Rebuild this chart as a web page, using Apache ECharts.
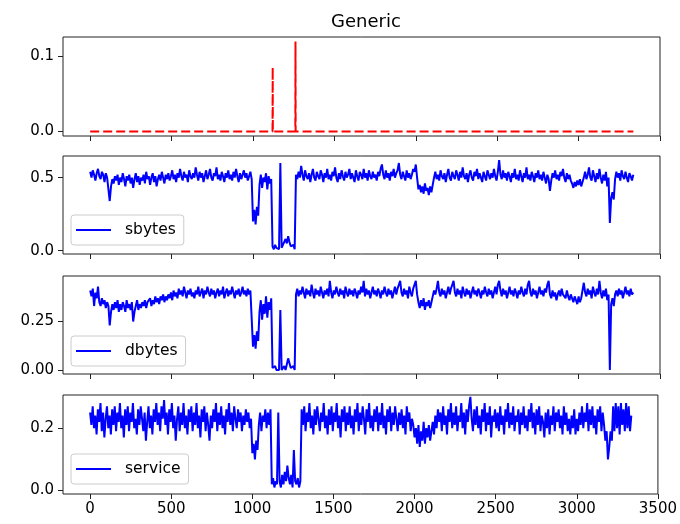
<!DOCTYPE html>
<html>
<head>
<meta charset="utf-8">
<script src="https://cdn.jsdelivr.net/npm/echarts@6/dist/echarts.min.js"></script>
<style>html,body{margin:0;padding:0;background:#fff}#c{width:680px;height:524px}</style>
</head>
<body>
<div id="c"></div>
<script>
// ---- data ----
const STEP = 8; // sample spacing along x (index units)
const xTicks = [0, 500, 1000, 1500, 2000, 2500, 3000, 3500];

const genericX = [0, 1120, 1121, 1122, 1260, 1261, 1262, 3336];
const genericY = [0, 0, 0.0855, 0, 0, 0.12, 0, 0];

const sbytes = [
0.54,0.50,0.55,0.52,0.48,0.53,0.56,0.51,0.49,0.54,0.52,0.47,0.53,0.50,0.42,0.34,0.44,0.49,0.46,0.51,
0.48,0.52,0.45,0.50,0.47,0.53,0.49,0.44,0.51,0.48,0.52,0.46,0.50,0.43,0.49,0.53,0.47,0.51,0.45,0.50,
0.48,0.52,0.46,0.54,0.49,0.51,0.45,0.50,0.53,0.47,0.51,0.44,0.49,0.52,0.48,0.54,0.50,0.46,0.52,0.49,
0.53,0.48,0.51,0.55,0.49,0.52,0.47,0.53,0.50,0.56,0.51,0.48,0.54,0.50,0.52,0.47,0.55,0.51,0.49,0.53,
0.50,0.57,0.52,0.48,0.54,0.50,0.53,0.47,0.51,0.55,0.49,0.52,0.56,0.50,0.48,0.53,0.51,0.57,0.49,0.52,
0.48,0.54,0.51,0.47,0.53,0.50,0.55,0.49,0.52,0.48,0.54,0.50,0.56,0.51,0.47,0.53,0.49,0.52,0.55,0.50,
0.53,0.48,0.51,0.54,0.49,0.20,0.28,0.18,0.30,0.24,0.45,0.52,0.43,0.50,0.47,0.53,0.42,0.51,0.46,0.49,
0.03,0.01,0.04,0.02,0.03,0.01,0.60,0.02,0.04,0.03,0.08,0.05,0.10,0.06,0.03,0.02,0.04,0.01,0.52,0.49,
0.54,0.50,0.58,0.52,0.48,0.55,0.51,0.49,0.53,0.47,0.52,0.56,0.50,0.48,0.54,0.51,0.49,0.55,0.52,0.47,
0.53,0.50,0.56,0.49,0.52,0.48,0.54,0.51,0.57,0.50,0.47,0.53,0.49,0.55,0.51,0.48,0.54,0.50,0.52,0.56,
0.49,0.53,0.50,0.47,0.55,0.51,0.48,0.54,0.52,0.49,0.56,0.50,0.53,0.48,0.55,0.51,0.49,0.54,0.50,0.52,
0.48,0.54,0.51,0.56,0.59,0.52,0.49,0.55,0.50,0.53,0.48,0.54,0.51,0.56,0.50,0.53,0.55,0.60,0.52,0.49,
0.54,0.51,0.48,0.55,0.50,0.53,0.49,0.52,0.56,0.54,0.59,0.50,0.42,0.45,0.40,0.44,0.39,0.46,0.41,0.43,
0.38,0.44,0.40,0.45,0.50,0.54,0.49,0.52,0.48,0.55,0.51,0.49,0.53,0.47,0.52,0.56,0.50,0.48,0.54,0.51,
0.49,0.55,0.52,0.48,0.54,0.50,0.57,0.51,0.49,0.53,0.47,0.52,0.55,0.50,0.48,0.54,0.51,0.56,0.49,0.53,
0.50,0.47,0.54,0.51,0.48,0.55,0.52,0.49,0.53,0.50,0.56,0.51,0.48,0.54,0.62,0.52,0.49,0.55,0.50,0.53,
0.48,0.54,0.51,0.47,0.53,0.50,0.56,0.49,0.52,0.48,0.55,0.51,0.47,0.53,0.50,0.57,0.49,0.52,0.48,0.54,
0.51,0.47,0.53,0.50,0.55,0.49,0.52,0.48,0.54,0.50,0.46,0.52,0.49,0.41,0.48,0.53,0.50,0.55,0.49,0.52,
0.48,0.54,0.51,0.56,0.50,0.47,0.53,0.49,0.52,0.48,0.46,0.43,0.47,0.44,0.48,0.45,0.49,0.44,0.47,0.50,
0.54,0.49,0.52,0.57,0.50,0.48,0.55,0.51,0.47,0.53,0.49,0.56,0.50,0.46,0.52,0.48,0.54,0.44,0.50,0.19,
0.36,0.40,0.35,0.49,0.54,0.50,0.53,0.48,0.55,0.51,0.49,0.54,0.50,0.47,0.53,0.51,0.48,0.52
];

const dbytes = [
0.41,0.38,0.42,0.33,0.40,0.37,0.43,0.35,0.33,0.37,0.34,0.36,0.32,0.35,0.33,0.23,0.30,0.34,0.31,0.35,
0.32,0.36,0.30,0.34,0.31,0.35,0.33,0.30,0.36,0.32,0.34,0.31,0.35,0.25,0.30,0.33,0.36,0.31,0.34,0.32,
0.35,0.33,0.36,0.32,0.35,0.34,0.37,0.33,0.36,0.34,0.38,0.35,0.37,0.34,0.38,0.36,0.39,0.35,0.38,0.36,
0.39,0.37,0.40,0.36,0.41,0.38,0.40,0.37,0.42,0.39,0.41,0.38,0.43,0.40,0.37,0.41,0.39,0.42,0.38,0.40,
0.37,0.41,0.39,0.43,0.38,0.40,0.42,0.37,0.41,0.39,0.43,0.40,0.38,0.42,0.39,0.41,0.37,0.40,0.42,0.38,
0.41,0.39,0.43,0.37,0.40,0.42,0.38,0.41,0.39,0.43,0.40,0.37,0.41,0.39,0.42,0.38,0.40,0.43,0.39,0.41,
0.38,0.42,0.39,0.41,0.40,0.12,0.18,0.11,0.20,0.15,0.30,0.36,0.26,0.34,0.29,0.38,0.27,0.35,0.31,0.37,
0.01,0.00,0.02,0.00,0.01,0.00,0.31,0.00,0.01,0.02,0.00,0.03,0.06,0.05,0.01,0.00,0.02,0.00,0.39,0.42,
0.38,0.41,0.39,0.43,0.40,0.37,0.42,0.39,0.41,0.38,0.44,0.40,0.37,0.42,0.39,0.41,0.38,0.43,0.40,0.37,
0.41,0.39,0.42,0.38,0.46,0.40,0.37,0.41,0.39,0.43,0.40,0.38,0.42,0.39,0.41,0.37,0.43,0.40,0.38,0.42,
0.39,0.41,0.38,0.42,0.40,0.37,0.41,0.39,0.43,0.40,0.46,0.38,0.42,0.39,0.41,0.37,0.40,0.43,0.39,0.41,
0.38,0.42,0.40,0.37,0.41,0.39,0.43,0.40,0.38,0.42,0.39,0.41,0.37,0.40,0.43,0.39,0.42,0.44,0.46,0.40,
0.38,0.42,0.39,0.41,0.37,0.43,0.40,0.38,0.42,0.44,0.46,0.39,0.35,0.32,0.36,0.33,0.37,0.31,0.35,0.33,
0.36,0.32,0.35,0.38,0.41,0.39,0.42,0.46,0.40,0.38,0.42,0.39,0.41,0.37,0.40,0.43,0.39,0.42,0.44,0.46,
0.40,0.38,0.42,0.39,0.41,0.37,0.43,0.40,0.38,0.42,0.39,0.41,0.37,0.40,0.43,0.39,0.41,0.38,0.42,0.40,
0.37,0.41,0.39,0.43,0.40,0.38,0.42,0.39,0.41,0.37,0.40,0.43,0.39,0.44,0.46,0.41,0.38,0.42,0.39,0.41,
0.37,0.40,0.43,0.39,0.41,0.38,0.42,0.40,0.37,0.41,0.39,0.43,0.40,0.38,0.42,0.39,0.44,0.46,0.40,0.38,
0.42,0.39,0.41,0.37,0.40,0.43,0.39,0.41,0.38,0.42,0.40,0.44,0.46,0.39,0.37,0.41,0.38,0.40,0.36,0.39,
0.41,0.38,0.42,0.39,0.40,0.37,0.41,0.38,0.36,0.39,0.37,0.35,0.38,0.36,0.34,0.38,0.35,0.37,0.36,0.45,
0.40,0.38,0.42,0.39,0.41,0.37,0.43,0.40,0.38,0.42,0.39,0.46,0.40,0.37,0.41,0.38,0.42,0.36,0.39,0.00,
0.34,0.37,0.33,0.39,0.41,0.38,0.42,0.39,0.41,0.37,0.40,0.43,0.39,0.41,0.38,0.42,0.39,0.40
];

const service = [
0.25,0.21,0.27,0.20,0.24,0.18,0.26,0.22,0.28,0.19,0.25,0.17,0.23,0.27,0.20,0.24,0.18,0.26,0.21,0.27,
0.19,0.25,0.22,0.28,0.20,0.24,0.17,0.26,0.21,0.27,0.19,0.25,0.22,0.28,0.20,0.23,0.18,0.26,0.21,0.27,
0.23,0.19,0.25,0.16,0.22,0.27,0.20,0.24,0.18,0.26,0.22,0.28,0.21,0.25,0.19,0.27,0.23,0.29,0.21,0.25,
0.18,0.26,0.22,0.28,0.20,0.24,0.16,0.23,0.27,0.19,0.25,0.21,0.28,0.20,0.24,0.18,0.26,0.22,0.27,0.19,
0.25,0.21,0.28,0.20,0.24,0.17,0.26,0.22,0.27,0.19,0.25,0.21,0.16,0.24,0.20,0.26,0.22,0.28,0.19,0.25,
0.21,0.27,0.20,0.24,0.18,0.26,0.22,0.28,0.21,0.25,0.19,0.27,0.23,0.20,0.26,0.22,0.25,0.19,0.24,0.21,
0.26,0.22,0.25,0.20,0.23,0.12,0.15,0.10,0.16,0.13,0.21,0.25,0.19,0.24,0.22,0.26,0.20,0.25,0.21,0.26,
0.02,0.04,0.01,0.03,0.02,0.25,0.03,0.01,0.05,0.02,0.06,0.03,0.08,0.04,0.02,0.05,0.01,0.13,0.03,0.02,
0.04,0.01,0.03,0.26,0.21,0.27,0.19,0.25,0.22,0.28,0.20,0.24,0.18,0.26,0.21,0.27,0.23,0.19,0.25,0.22,
0.28,0.20,0.24,0.18,0.26,0.21,0.27,0.19,0.25,0.22,0.28,0.20,0.24,0.17,0.26,0.22,0.27,0.19,0.25,0.21,
0.27,0.20,0.24,0.18,0.26,0.22,0.28,0.19,0.25,0.21,0.27,0.23,0.18,0.26,0.22,0.28,0.20,0.24,0.19,0.26,
0.22,0.27,0.19,0.25,0.21,0.28,0.20,0.24,0.18,0.26,0.22,0.27,0.19,0.25,0.21,0.27,0.23,0.19,0.25,0.21,
0.26,0.20,0.24,0.18,0.27,0.22,0.25,0.19,0.23,0.21,0.17,0.20,0.15,0.21,0.14,0.19,0.16,0.22,0.15,0.20,
0.17,0.21,0.16,0.19,0.22,0.18,0.24,0.20,0.26,0.22,0.25,0.19,0.27,0.21,0.24,0.18,0.26,0.22,0.28,0.20,
0.25,0.21,0.27,0.19,0.24,0.22,0.28,0.20,0.25,0.18,0.26,0.22,0.27,0.30,0.23,0.19,0.26,0.21,0.27,0.20,
0.24,0.18,0.26,0.22,0.28,0.19,0.25,0.21,0.27,0.17,0.24,0.22,0.26,0.20,0.25,0.19,0.27,0.21,0.24,0.18,
0.26,0.22,0.28,0.20,0.25,0.21,0.27,0.19,0.24,0.22,0.26,0.18,0.25,0.21,0.27,0.20,0.24,0.19,0.26,0.22,
0.28,0.20,0.25,0.18,0.26,0.21,0.27,0.19,0.24,0.22,0.17,0.25,0.20,0.26,0.18,0.24,0.21,0.27,0.19,0.25,
0.22,0.26,0.20,0.24,0.18,0.27,0.21,0.25,0.19,0.23,0.18,0.24,0.20,0.26,0.18,0.23,0.19,0.25,0.21,0.27,
0.20,0.25,0.22,0.28,0.19,0.26,0.21,0.27,0.20,0.24,0.18,0.26,0.22,0.27,0.19,0.25,0.21,0.16,0.19,0.10,
0.14,0.19,0.16,0.27,0.19,0.28,0.20,0.27,0.18,0.28,0.21,0.26,0.19,0.28,0.20,0.27,0.19,0.24
];

// ---- chart ----
const FONT = 'DejaVu Sans';
const AX = '#222';
const toPairs = arr => arr.map((v, i) => [i * STEP, v]);

const grids = [
  {top: 37, height: 99},
  {top: 156, height: 98},
  {top: 276, height: 98},
  {top: 395, height: 99}
].map(g => ({left: 63, width: 597, top: g.top, height: g.height, show: true,
  borderColor: AX, borderWidth: 1, backgroundColor: 'transparent'}));

const yCfg = [
  {min: -0.006, max: 0.126, ticks: [0, 0.1], dec: 1},
  {min: -0.0225, max: 0.648, ticks: [0, 0.5], dec: 1},
  {min: -0.0206, max: 0.485, ticks: [0, 0.25], dec: 2},
  {min: -0.011, max: 0.306, ticks: [0, 0.2], dec: 1}
];

const xAxes = grids.map((g, i) => ({
  type: 'value', gridIndex: i, min: -167, max: 3500,
  axisLine: {show: false, onZero: false},
  splitLine: {show: false},
  axisTick: {show: true, customValues: xTicks, length: 5, lineStyle: {color: AX, width: 1}},
  axisLabel: {show: i === 3, customValues: xTicks, margin: 8, color: '#000',
    fontFamily: FONT, fontSize: 15, formatter: v => String(v)}
}));

const yAxes = yCfg.map((c, i) => ({
  type: 'value', gridIndex: i, min: c.min, max: c.max,
  axisLine: {show: false, onZero: false},
  splitLine: {show: false},
  axisTick: {show: true, customValues: c.ticks, length: 5, lineStyle: {color: AX, width: 1}},
  axisLabel: {show: true, customValues: c.ticks, margin: 9, color: '#000',
    fontFamily: FONT, fontSize: 15, formatter: v => Number(v).toFixed(c.dec)}
}));

const blueSeries = [
  {name: 'sbytes', data: sbytes, idx: 1},
  {name: 'dbytes', data: dbytes, idx: 2},
  {name: 'service', data: service, idx: 3}
];

const series = [{
  type: 'line', xAxisIndex: 0, yAxisIndex: 0,
  data: genericX.map((x, i) => [x, genericY[i]]),
  showSymbol: false, symbol: 'none',
  lineStyle: {color: '#ff0000', width: 2, type: [9, 4]},
  silent: true
}].concat(blueSeries.map(s => ({
  name: s.name, type: 'line', xAxisIndex: s.idx, yAxisIndex: s.idx,
  data: toPairs(s.data), showSymbol: false, symbol: 'none',
  itemStyle: {color: '#0000ff'},
  lineStyle: {color: '#0000ff', width: 2}, silent: true
})));

const legendTops = [215, 336, 454];
const legends = blueSeries.map((s, k) => ({
  data: [s.name], left: 71, top: legendTops[k], orient: 'vertical',
  selectedMode: false, icon: 'rect', itemWidth: 35, itemHeight: 2,
  itemStyle: {color: '#0000ff'},
  padding: [7, 8, 7, 5],
  backgroundColor: 'rgba(255,255,255,0.8)', borderColor: '#cccccc', borderWidth: 1, borderRadius: 3,
  textStyle: {fontFamily: FONT, fontSize: 15.5, color: '#000', padding: [0, 0, 0, 9]}
}));

const chart = echarts.init(document.getElementById('c'), null, {renderer: 'canvas'});
chart.setOption({
  animation: false,
  backgroundColor: '#fff',
  title: {text: 'Generic', left: 361, top: 8, textAlign: 'center',
    textStyle: {fontFamily: FONT, fontSize: 18, fontWeight: 'normal', color: '#000'}},
  grid: grids,
  xAxis: xAxes,
  yAxis: yAxes,
  legend: legends,
  series: series
});
</script>
</body>
</html>
